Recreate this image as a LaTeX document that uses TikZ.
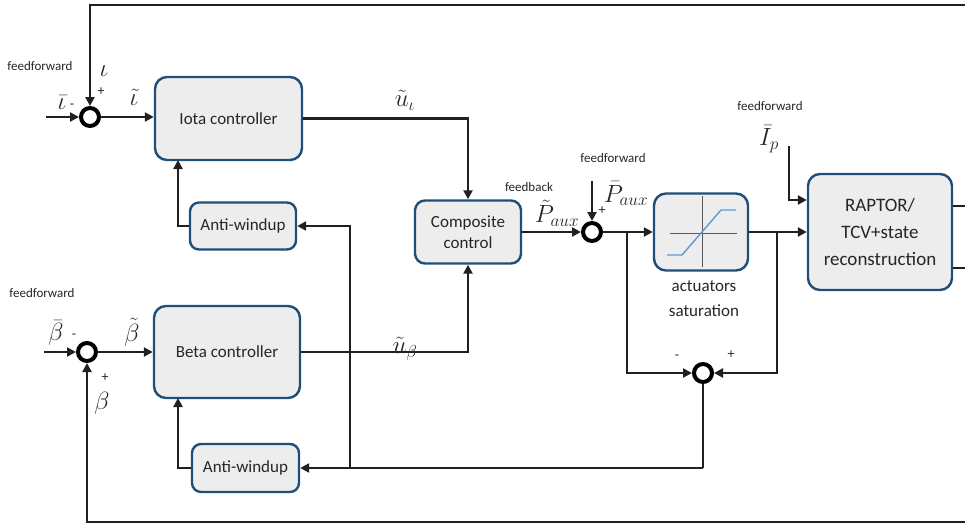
\documentclass[tikz,border=0pt]{standalone}
\usepackage{fontspec}
\setmainfont{Carlito}
\usetikzlibrary{arrows.meta,calc}
\definecolor{bordc}{RGB}{31,78,121}
\definecolor{boxfill}{RGB}{237,237,237}
\definecolor{linec}{RGB}{35,31,32}
\definecolor{txtc}{RGB}{38,38,38}
\definecolor{satblue}{RGB}{91,155,213}
\begin{document}
\begin{tikzpicture}[x=1pt,y=-1pt,
 wire/.style={line width=2.8pt, draw=linec},
 arr/.style={wire, -{Triangle[length=9pt,width=9pt]}},
 block/.style={draw=bordc, fill=boxfill, line width=2.4pt, rounded corners=12pt, align=center,
   font=\fontsize{17}{21}\selectfont, text=txtc, inner sep=0pt},
 sumc/.style={circle, draw=black, line width=4pt, fill=white, minimum size=18pt, inner sep=0pt},
 ff/.style={font=\fontsize{13}{15}\selectfont, text=txtc},
 mlab/.style={font=\fontsize{23}{25}\selectfont, text=txtc, inner sep=0pt},
 sign/.style={font=\fontsize{14}{15}\selectfont, text=txtc, inner sep=0pt}
]
\useasboundingbox (0,0) rectangle (965,527);

% blocks
\node[block, minimum width=147pt, minimum height=83pt] (iota) at (228.5,118.5) {Iota controller};
\node[block, minimum width=146pt, minimum height=92pt] (beta) at (227,352) {Beta controller};
\node[block, minimum width=106pt, minimum height=47pt, rounded corners=9pt] (aw1) at (243,226) {Anti-windup};
\node[block, minimum width=107pt, minimum height=48pt, rounded corners=9pt] (aw2) at (245.5,468) {Anti-windup};
\node[block, minimum width=106pt, minimum height=63pt, rounded corners=10pt] (comp) at (468,232) {Composite\\control};
\node[block, minimum width=94pt, minimum height=77pt] (sat) at (701,232) {};
\node[block, minimum width=144pt, minimum height=116pt, font=\fontsize{19}{27}\selectfont] (rap) at (880,232) {RAPTOR/\\TCV+state\\reconstruction};

% saturation symbol
\draw[black!65, line width=1pt] (670,233) -- (737,233) (702,196) -- (702,267);
\draw[satblue, line width=1.4pt] (667,255) -- (682,255) -- (721,210) -- (736,210);
\node[font=\fontsize{17}{25}\selectfont, text=txtc, align=center] (satlab) at (704,299) {actuators\\saturation};

% summing junctions
\node[sumc] (s1) at (90,117) {};
\node[sumc] (s2) at (87,352) {};
\node[sumc] (s3) at (592,232) {};
\node[sumc] (s4) at (703,373) {};

% helper coordinates
\coordinate (topR) at (966,5);
\coordinate (botR) at (966,522);
\coordinate (in1) at (46,117);
\coordinate (in2) at (44,352);
\coordinate (pff) at (592,181);
\coordinate (ip) at (789,146);
\coordinate (j1) at (627,232);
\coordinate (j2) at (777,232);
\coordinate (j3) at (703,468);
\coordinate (j4) at (350,468);
\coordinate (o1) at (966,206);
\coordinate (o2) at (966,268);
\coordinate (iotaIn) at (178,160);
\coordinate (betaIn) at (178,398);

% connectors
\draw[arr] (topR) -| (s1);
\draw[arr] (in1) -- (s1);
\draw[arr] (s1.east) -- (s1.east -| iota.west);
\draw[arr] (iota.east) -| (comp.north);
\draw[arr] (beta.east) -| (comp.south);
\draw[arr] (in2) -- (s2);
\draw[arr] (s2) -- (beta);
\draw[arr] (botR) -| (s2);
\draw[arr] (comp) -- (s3);
\draw[arr] (pff) -- (s3);
\draw[arr] (s3) -- (sat);
\draw[arr] (sat) -- (rap);
\draw[arr] (ip) |- ($(rap.west)+(0,-32)$);
\draw[arr] (j1) |- (s4);
\draw[arr] (j2) |- (s4);
\draw[wire] (s4) -- (j3);
\draw[arr] (j3) -- (aw2);
\draw[arr] (j4) |- (aw1);
\draw[arr] (aw1.west) -| (iotaIn);
\draw[arr] (aw2.west) -| (betaIn);
\draw[wire] (rap.east |- o1) -- (o1);
\draw[wire] (rap.east |- o2) -- (o2);

% labels
\node[ff] (ffa) at (40,66) {feedforward};
\node[ff] (ffb) at (42,293) {feedforward};
\node[ff] (ffc) at (613,158) {feedforward};
\node[ff] (ffd) at (770,106) {feedforward};
\node[ff] (fb) at (529,187) {feedback};

\node[mlab] (liota) at (104,71) {$\iota$};
\node[sign] (lp1) at (101,92) {+};
\node[mlab] (lbiota) at (62,103) {$\bar{\iota}$};
\node[sign] (lm1) at (72,106) {-};
\node[mlab] (ltiota) at (134,97) {$\tilde{\iota}$};

\node[mlab] (lbbeta) at (56,333) {$\bar{\beta}$};
\node[sign] (lm2) at (74,336) {-};
\node[mlab] (ltbeta) at (132,332) {$\tilde{\beta}$};
\node[sign] (lp2) at (105,378) {+};
\node[mlab] (lbeta) at (102,403) {$\beta$};

\node[mlab] (lui) at (405,100) {$\tilde{u}_{\iota}$};
\node[mlab] (lub) at (405,349) {$\tilde{u}_{\beta}$};

\node[mlab] (ltp) at (557,213) {$\tilde{P}_{aux}$};
\node[mlab] (lbp) at (626,194) {$\bar{P}_{aux}$};
\node[sign] (lp3) at (602,211) {+};
\node[sign] (lm4) at (677,357) {-};
\node[sign] (lp4) at (731,355) {+};
\node[mlab] (lip) at (769,139) {$\bar{I}_{p}$};
\end{tikzpicture}
\end{document}
